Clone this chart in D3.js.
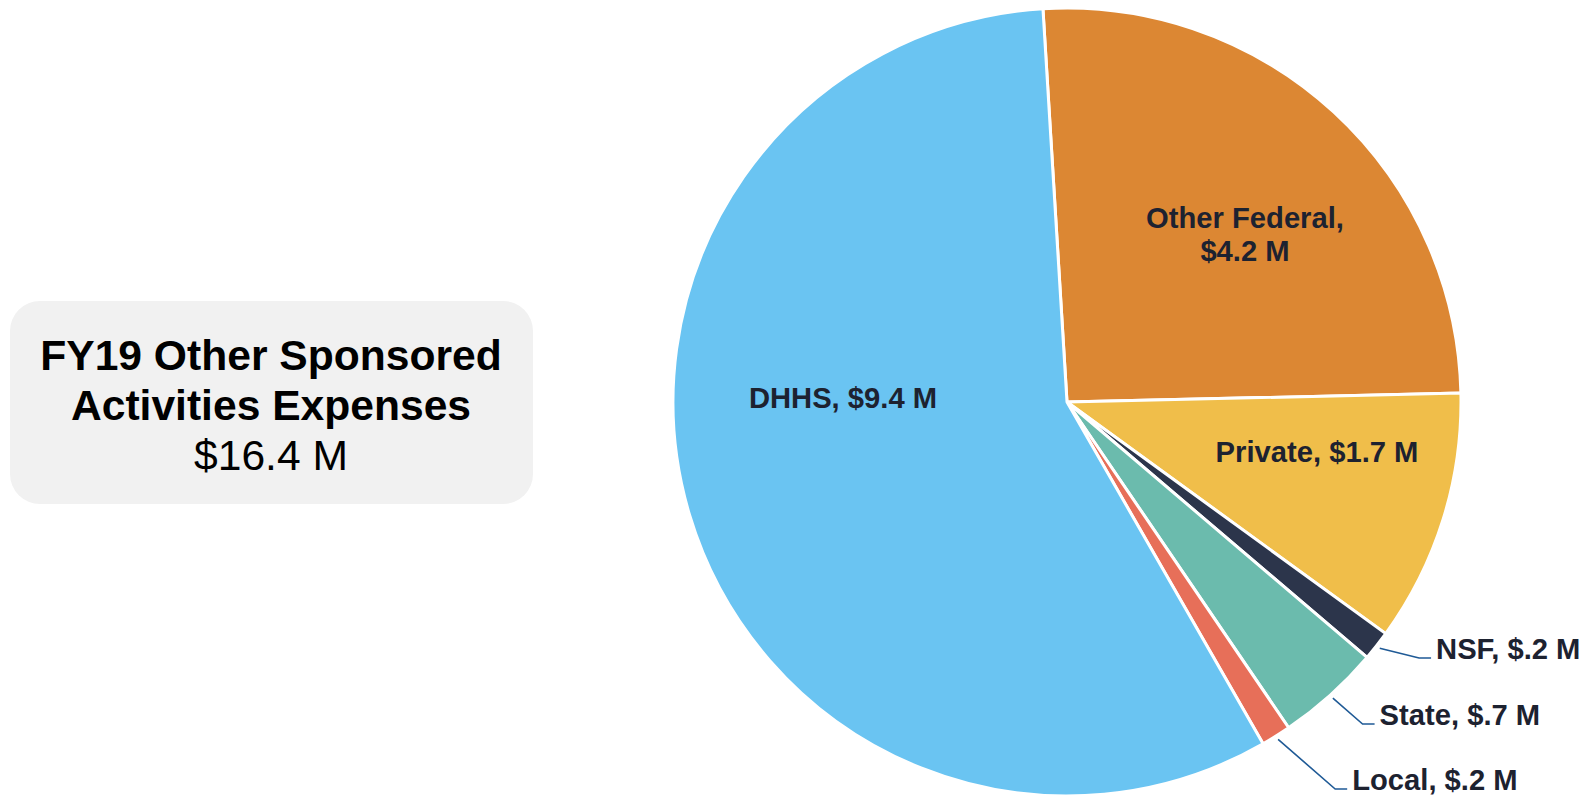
<!DOCTYPE html>
<html>
<head>
<meta charset="utf-8">
<script src="https://cdn.jsdelivr.net/npm/d3@7/dist/d3.min.js"></script>
<style>
  html, body { margin: 0; padding: 0; background: #fff; }
  svg { display: block; font-family: "Liberation Sans", Arial, sans-serif; }
</style>
</head>
<body>
<svg id="chart" width="1591" height="795"></svg>
<script>
// Funding sources, clockwise from 12 o'clock
const sources = ["Other Federal", "Private", "NSF", "State", "Local", "DHHS"];
const amounts = [4.2, 1.7, 0.2, 0.7, 0.2, 9.4];   // $ millions
const labels = ["Other Federal,\n$4.2 M", "Private, $1.7 M", "NSF, $.2 M", "State, $.7 M", "Local, $.2 M", "DHHS, $9.4 M"];
const colors = ["#DC8733", "#F0BE4A", "#2C354B", "#6BBBAD", "#E76F59", "#6AC4F2"];
const totalLabel = "$16.4 M";
const titleLines = ["FY19 Other Sponsored", "Activities Expenses"];

const svg = d3.select("#chart");
const cx = 1067, cy = 402, radius = 394;
const offset = -3.5 * Math.PI / 180;
const labelSize = 29.2;

const pie = d3.pie().sort(null).value(d => d.value)
  .startAngle(offset).endAngle(2 * Math.PI + offset);
const arcs = pie(sources.map((s, i) => ({ name: s, value: amounts[i], label: labels[i], color: colors[i] })));
const arc = d3.arc().innerRadius(0).outerRadius(radius);

const g = svg.append("g").attr("transform", `translate(${cx},${cy})`);
g.selectAll("path.slice").data(arcs).enter().append("path")
  .attr("class", "slice")
  .attr("d", arc)
  .attr("fill", d => d.data.color)
  .attr("stroke", "#fff")
  .attr("stroke-width", 3)
  .attr("stroke-linejoin", "round");

// Labels placed inside the larger slices
const inside = {
  "Other Federal": { dx: 178, dy: -174 },
  "Private": { dx: 250, dy: 60 },
  "DHHS": { dx: -224, dy: 6 }
};
const labelColor = "#1D2230";
arcs.filter(d => inside[d.data.name]).forEach(d => {
  const p = inside[d.data.name];
  const lines = d.data.label.split("\n");
  const t = g.append("text")
    .attr("text-anchor", "middle")
    .attr("font-size", labelSize)
    .attr("font-weight", "bold")
    .attr("fill", labelColor);
  lines.forEach((ln, i) => {
    t.append("tspan").attr("x", p.dx).attr("y", p.dy + i * 33).text(ln);
  });
});

// Small slices get leader lines to labels outside the pie
const outside = { "NSF": 256, "State": 322, "Local": 387 };  // label baselines relative to centre
arcs.filter(d => outside[d.data.name] !== undefined).forEach(d => {
  const mid = (d.startAngle + d.endAngle) / 2;
  const r0 = radius + 4;
  const x0 = r0 * Math.sin(mid), y0 = -r0 * Math.cos(mid);
  const yb = outside[d.data.name];
  // elbow sits on the label's row
  const slope = d.data.name === "NSF" ? 4 : 1.15;
  const x1 = x0 + (yb - y0) * slope;
  const x2 = x1 + 12;
  g.append("polyline")
    .attr("points", [[x0, y0], [x1, yb], [x2, yb]].map(p => p.join(",")).join(" "))
    .attr("fill", "none")
    .attr("stroke", "#1F5A96")
    .attr("stroke-width", 1.6);
  g.append("text")
    .attr("x", x2 + 5).attr("y", yb + 1)
    .attr("font-size", labelSize)
    .attr("font-weight", "bold")
    .attr("fill", labelColor)
    .text(d.data.label);
});

// Summary box on the left
svg.append("rect")
  .attr("x", 10).attr("y", 301).attr("width", 523).attr("height", 203)
  .attr("rx", 30).attr("ry", 30)
  .attr("fill", "#F1F1F1");
const box = svg.append("text").attr("text-anchor", "middle").attr("fill", "#000").attr("font-size", 42.6);
titleLines.forEach((ln, i) => {
  box.append("tspan").attr("x", 271).attr("y", 370 + i * 50).attr("font-weight", "bold").text(ln);
});
box.append("tspan").attr("x", 271).attr("y", 470).text(totalLabel);
</script>
</body>
</html>
